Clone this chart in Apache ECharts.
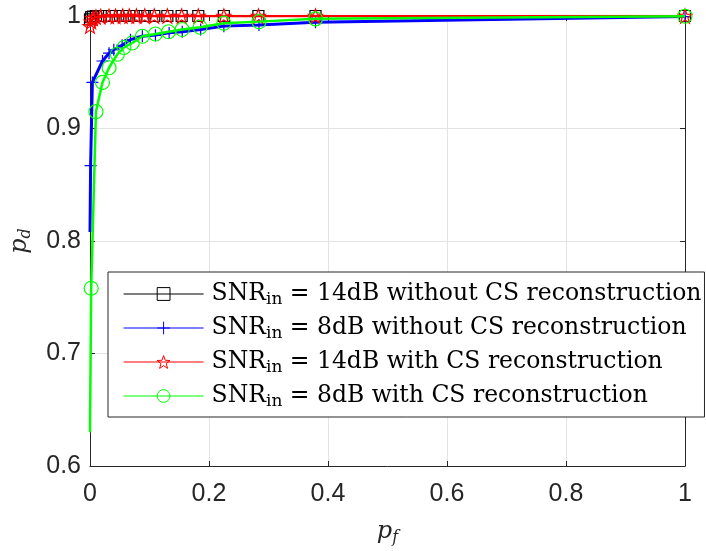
<!DOCTYPE html>
<html><head><meta charset="utf-8">
<script src="https://cdn.jsdelivr.net/npm/echarts@6/dist/echarts.min.js"></script>
<style>html,body{margin:0;padding:0;background:#fff}#c{width:706px;height:551px}</style>
</head><body><div id="c"></div>
<script>
// ---- tick labels ----
const xTickLabels = ['0', '0.2', '0.4', '0.6', '0.8', '1'];
const yTickLabels = ['0.6', '0.7', '0.8', '0.9', '1'];

// ---- series names ----
const seriesNames = [
  'SNR_in = 14dB without CS reconstruction',
  'SNR_in = 8dB without CS reconstruction',
  'SNR_in = 14dB with CS reconstruction',
  'SNR_in = 8dB with CS reconstruction'
];

// ---- data (pf, pd) ----
const pf14noCS = [0, 0.002, 0.005, 0.010, 0.018, 0.032, 0.043, 0.055, 0.066, 0.078, 0.092, 0.108, 0.130, 0.154, 0.182, 0.225, 0.283, 0.379, 1];
const pd14noCS = [0.997, 0.999, 0.9995, 1, 1, 1, 1, 1, 1, 1, 1, 1, 1, 1, 1, 1, 1, 1, 1];

const pf8noCS = [0, 0.001, 0.004, 0.021, 0.032, 0.040, 0.054, 0.068, 0.088, 0.110, 0.133, 0.155, 0.186, 0.225, 0.284, 0.379, 1];
const pd8noCS = [0.808, 0.867, 0.941, 0.960, 0.967, 0.970, 0.974, 0.979, 0.982, 0.983, 0.985, 0.986, 0.988, 0.991, 0.992, 0.9945, 0.9995];

const pf14CS = [0, 0.002, 0.005, 0.010, 0.018, 0.032, 0.043, 0.055, 0.066, 0.078, 0.092, 0.108, 0.130, 0.154, 0.182, 0.225, 0.283, 0.379, 1];
const pd14CS = [0.991, 0.995, 0.998, 0.999, 0.9995, 0.9997, 0.9998, 0.9999, 1, 1, 1, 1, 1, 1, 1, 1, 1, 1, 1];

const pf8CS = [0, 0.002, 0.010, 0.021, 0.032, 0.046, 0.057, 0.071, 0.088, 0.110, 0.132, 0.155, 0.185, 0.225, 0.284, 0.379, 1];
const pd8CS = [0.63, 0.758, 0.915, 0.941, 0.954, 0.966, 0.972, 0.976, 0.982, 0.984, 0.986, 0.988, 0.990, 0.9936, 0.995, 0.9975, 0.9998];

// number of leading points drawn without a marker
const unmarkedLead = [0, 1, 0, 1];

// ---- symbols ----
function starPath() {
  const pts = [];
  for (let k = 0; k < 10; k++) {
    const r = (k % 2 === 0) ? 10 : 4.2;
    const a = (-90 + k * 36) * Math.PI / 180;
    pts.push((10 + r * Math.cos(a)).toFixed(3) + ',' + (10 + r * Math.sin(a)).toFixed(3));
  }
  return 'path://M' + pts.join(' L') + ' Z';
}
const plusPath = 'path://M0,5 L10,5 M5,0 L5,10';

const colors = ['#000000', '#0000ff', '#ff0000', '#00ff00'];
const symbols = ['rect', plusPath, starPath(), 'circle'];
const symbolSizes = [11, 12, 14, 14];
const lineWidths = [1.5, 3, 2.5, 2.5];
const pfs = [pf14noCS, pf8noCS, pf14CS, pf8CS];
const pds = [pd14noCS, pd8noCS, pd14CS, pd8CS];

const series = seriesNames.map((name, i) => ({
  name: name,
  type: 'line',
  data: pfs[i].map((x, j) => j < unmarkedLead[i]
    ? { value: [x, pds[i][j]], symbol: 'none' }
    : { value: [x, pds[i][j]] }),
  symbol: symbols[i],
  symbolSize: symbolSizes[i],
  showAllSymbol: true,
  lineStyle: { color: colors[i], width: lineWidths[i] },
  itemStyle: { color: 'transparent', borderColor: colors[i], borderWidth: 1.2 },
  emphasis: { disabled: true },
  animation: false,
  z: 2 + i
}));

const serif = '"DejaVu Serif", "Liberation Serif", serif';
const sans = '"Liberation Sans", Arial, sans-serif';
const axisColor = '#262626';

function axisCommon(extra) {
  return Object.assign({
    axisLine: { show: true, onZero: false, lineStyle: { color: axisColor, width: 1 } },
    axisTick: { show: true, inside: true, length: 5, lineStyle: { color: axisColor } },
    splitLine: { show: false },
    axisLabel: { show: false }
  }, extra);
}

const chart = echarts.init(document.getElementById('c'), null, { renderer: 'canvas' });
chart.setOption({
  backgroundColor: '#ffffff',
  animation: false,
  grid: { left: 89, right: 21, top: 16, bottom: 82, containLabel: false },
  legend: {
    orient: 'vertical',
    left: 108, top: 272,
    padding: [10, 3, 7, 15],
    itemGap: 8,
    itemWidth: 80,
    itemHeight: 16,
    backgroundColor: '#ffffff',
    borderColor: axisColor,
    borderWidth: 1,
    selectedMode: false,
    data: seriesNames,
    lineStyle: { width: 1.2 },
    itemStyle: { borderWidth: 1 },
    formatter: function (name) {
      const rest = name.replace('SNR_in', '');
      return '{a|SNR}{s|in}{a|' + rest + '}';
    },
    textStyle: {
      color: '#000',
      padding: [0, 0, 0, 3],
      rich: {
        a: { fontFamily: serif, fontSize: 23.5, lineHeight: 28, color: '#000' },
        s: { fontFamily: serif, fontSize: 17, lineHeight: 12, verticalAlign: 'bottom', color: '#000' }
      }
    }
  },
  xAxis: [
    axisCommon({
      type: 'value', min: 0, max: 1, interval: 0.2, position: 'bottom',
      splitLine: { show: true, lineStyle: { color: '#e3e3e3', width: 1 } },
      axisLabel: {
        show: true, margin: 16, color: '#262626', fontFamily: sans, fontSize: 25,
        formatter: (v, i) => xTickLabels[Math.round(v / 0.2)]
      },
      name: '{i|p}{s|f}',
      nameLocation: 'middle',
      nameGap: 52,
      nameTextStyle: {
        rich: {
          i: { fontFamily: serif, fontStyle: 'italic', fontSize: 24, lineHeight: 28, color: '#262626' },
          s: { fontFamily: serif, fontStyle: 'italic', fontSize: 16, lineHeight: 12, verticalAlign: 'bottom', color: '#262626' }
        }
      }
    }),
    axisCommon({ type: 'value', min: 0, max: 1, interval: 0.2, position: 'top' })
  ],
  yAxis: [
    axisCommon({
      type: 'value', min: 0.6, max: 1, interval: 0.1, position: 'left',
      splitLine: { show: true, lineStyle: { color: '#e3e3e3', width: 1 } },
      axisLabel: {
        show: true, margin: 9, color: '#262626', fontFamily: sans, fontSize: 25,
        formatter: (v) => yTickLabels[Math.round((v - 0.6) / 0.1)]
      },
      name: '{i|p}{s|d}',
      nameLocation: 'middle',
      nameRotate: 90,
      nameGap: 56,
      nameTextStyle: {
        rich: {
          i: { fontFamily: serif, fontStyle: 'italic', fontSize: 24, lineHeight: 28, color: '#262626' },
          s: { fontFamily: serif, fontStyle: 'italic', fontSize: 16, lineHeight: 12, verticalAlign: 'bottom', color: '#262626' }
        }
      }
    }),
    axisCommon({ type: 'value', min: 0.6, max: 1, interval: 0.1, position: 'right' })
  ],
  series: series
});
</script>
</body></html>
